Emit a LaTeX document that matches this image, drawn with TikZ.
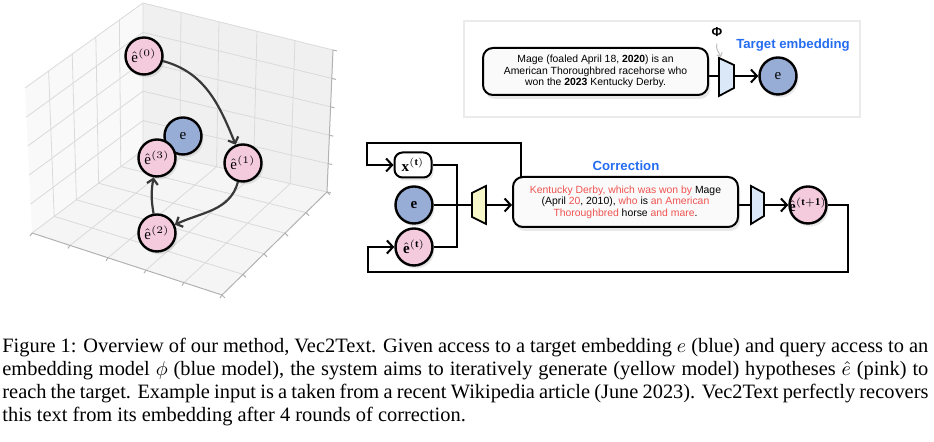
\documentclass[tikz,border=0pt]{standalone}
\usepackage{fontspec}
\setmainfont{Liberation Serif}
\newfontfamily\capfont{Liberation Serif}
\newfontfamily\diagfont{Liberation Sans}
\usetikzlibrary{calc,shadows,arrows.meta,backgrounds}

\definecolor{hatpink}{RGB}{244,202,221}
\definecolor{tgtblue}{RGB}{151,173,214}
\definecolor{encblue}{RGB}{218,232,248}
\definecolor{decyellow}{RGB}{246,247,200}
\definecolor{headblue}{RGB}{36,108,240}
\definecolor{txtred}{RGB}{239,83,80}
\definecolor{paneA}{RGB}{249,249,249}
\definecolor{paneB}{RGB}{240,240,240}
\definecolor{paneC}{RGB}{245,245,245}
\definecolor{gridgray}{RGB}{218,218,218}

\tikzset{
  vec/.style={circle, draw, line width=1.2pt, minimum size=18.5pt, inner sep=0pt,
    font=\fontsize{7.5}{8}\selectfont,
    drop shadow={shadow xshift=1pt, shadow yshift=-1.5pt, opacity=0.18}},
  hyp/.style={vec, fill=hatpink},
  tgt/.style={vec, fill=tgtblue},
  textbox/.style={draw, rounded corners=5pt, line width=1pt, fill=black!2, align=center,
    font=\diagfont\fontsize{5.2}{5.7}\selectfont,
    drop shadow={shadow xshift=1pt, shadow yshift=-2pt, opacity=0.18}},
  title/.style={font=\diagfont\bfseries\fontsize{6.6}{7}\selectfont, text=headblue},
  model/.style={draw, line width=0.9pt, line join=miter},
  flow/.style={line width=1pt},
  flowarr/.style={flow, -{Straight Barb[length=3pt,width=6.5pt]}},
  arc3d/.style={draw=black!78, line width=1.1pt, -{Straight Barb[length=2.6pt,width=5.5pt]}},
  grid3d/.style={draw=gridgray, line width=0.4pt},
  edge3d/.style={draw=black!30, line width=0.5pt},
}

\begin{document}
\begin{tikzpicture}[x=0.5pt,y=-0.5pt]
    \useasboundingbox (0,0) rectangle (934,442);

    % corners of the 3-d axes box
    \coordinate (T)  at (143,3);
    \coordinate (L)  at (25,88);
    \coordinate (R)  at (333,50);
    \coordinate (B)  at (143,150);
    \coordinate (LB) at (32,233);
    \coordinate (RB) at (327,192);
    \coordinate (F)  at (222,295);

    \begin{pgfonlayer}{background}
        \fill[paneA] (B) -- (LB) -- (L) -- (T) -- cycle;
        \fill[paneB] (B) -- (RB) -- (R) -- (T) -- cycle;
        \fill[paneC] (B) -- (LB) -- (F) -- (RB) -- cycle;
        \foreach \i in {1,...,4}{
            \draw[grid3d] ($(B)!\i/5!(LB)$) -- ($(T)!\i/5!(L)$);
            \draw[grid3d] ($(B)!\i/5!(T)$)  -- ($(LB)!\i/5!(L)$);
            \draw[grid3d] ($(B)!\i/5!(RB)$) -- ($(T)!\i/5!(R)$);
            \draw[grid3d] ($(B)!\i/5!(T)$)  -- ($(RB)!\i/5!(R)$);
            \draw[grid3d] ($(B)!\i/5!(RB)$) -- ($(LB)!\i/5!(F)$);
            \draw[grid3d] ($(B)!\i/5!(LB)$) -- ($(RB)!\i/5!(F)$);
        }
        \draw[grid3d] (L) -- (T) -- (R) (T) -- (B) -- (LB) (B) -- (RB);
        \draw[edge3d] (LB) -- (F) -- (RB) -- (R);
        \foreach \i in {0,...,5}{
            \draw[edge3d] ($(R)!\i/5!(RB)$)  -- ++(4,1);
            \draw[edge3d] ($(LB)!\i/5!(F)$)  -- ++(-2,3);
            \draw[edge3d] ($(F)!\i/5!(RB)$)  -- ++(3,3);
        }
    \end{pgfonlayer}

    % hypotheses in embedding space
    \node (etgt) [tgt] at (183,136) {$\mathrm{e}$};
    \node (e0)   [hyp] at (144,56)  {$\hat{\mathrm{e}}^{(0)}$};
    \node (e3)   [hyp] at (157,158) {$\hat{\mathrm{e}}^{(3)}$};
    \node (e1)   [hyp] at (243,163) {$\hat{\mathrm{e}}^{(1)}$};
    \node (e2)   [hyp] at (157,233) {$\hat{\mathrm{e}}^{(2)}$};

    % target embedding
    \draw[draw=black!8, line width=0.8pt] (464,21) rectangle (860,117);
    \node (srcbox) [textbox, minimum width=112.5pt, minimum height=23.5pt] at (595.5,71.5)
        {Mage (foaled April 18, \textbf{2020}) is an\\American Thoroughbred racehorse who\\won the \textbf{2023} Kentucky Derby.};
    \draw[model, fill=encblue] (719,58) -- (734,65) -- (734,88) -- (719,96) -- cycle;
    \coordinate (enc-w) at (719,76);
    \coordinate (enc-e) at (734,76);
    \coordinate (enc-n) at (721,57);
    \node (phi)  at (717,32) {\diagfont\bfseries\fontsize{6.5}{6.5}\selectfont Φ};
    \node (emb)  [tgt] at (778,76) {$\mathrm{e}$};
    \node (tgtlabel) [title] at (793,45) {Target embedding};

    % correction step
    \node (xt)   [draw, rounded corners=4pt, line width=1pt, fill=white, inner sep=0pt,
                  minimum width=18.5pt, minimum height=12.5pt, font=\fontsize{7.5}{8}\selectfont,
                  drop shadow={shadow xshift=1pt, shadow yshift=-1.5pt, opacity=0.18}]
                  at (413,165) {$\mathbf{x}^{(\mathbf{t})}$};
    \node (et)   [tgt] at (414,205) {$\mathbf{e}$};
    \node (ehat) [hyp] at (414,247) {$\hat{\mathbf{e}}^{(\mathbf{t})}$};
    \draw[model, fill=decyellow] (472,193) -- (486,186) -- (486,224) -- (472,217) -- cycle;
    \coordinate (dec-w) at (472,205);
    \coordinate (dec-e) at (486,205);
    \node (corr) [textbox, minimum width=112.5pt, minimum height=25pt] at (625.5,202)
        {{\color{txtred}Kentucky Derby, which was won by} Mage\\
         (April {\color{txtred}20}, 2010), {\color{txtred}who} is {\color{txtred}an American}\\
         {\color{txtred}Thoroughbred} horse {\color{txtred}and mare}.};
    \node (corrlabel) [title] at (626,166) {Correction};
    \draw[model, fill=encblue] (751,186) -- (764,193) -- (764,216) -- (751,224) -- cycle;
    \coordinate (enc2-w) at (751,205);
    \coordinate (enc2-e) at (764,205);
    \node (enext) [hyp] at (808,205) {\makebox[0pt]{$\hat{\mathbf{e}}^{(\mathbf{t+1})}$}};

    \coordinate (mrg)     at (457,205);
    \coordinate (corrtap) at (521,185);
    \coordinate (lpT)     at (367,143);
    \coordinate (lpR)     at (848,272);
    \coordinate (lpL)     at (368,272);

    \begin{pgfonlayer}{background}
        \draw[arc3d] (e0) to[out=-15, in=112] (e1);
        \draw[arc3d] (e1) to[out=-105, in=25] (e2);
        \draw[arc3d] (e2) to[out=100, in=-100] (e3);

        \draw[flow] (srcbox.east |- enc-w) -- (enc-w);
        \draw[flowarr] (enc-e) -- (emb);
        \draw[draw=black!25, line width=0.5pt, -{Straight Barb[length=1.5pt,width=3pt]}]
            (phi.south) to[out=-110, in=115] (enc-n);

        \draw[flow] (xt.east) -| (mrg);
        \draw[flow] (ehat.east) -| (mrg);
        \draw[flow] (et.east) -- (dec-w);
        \draw[flowarr] (dec-e) -- (dec-e -| corr.west);
        \draw[flow] (corr.east |- enc2-w) -- (enc2-w);
        \draw[flowarr] (enc2-e) -- (enext);
        \draw[flowarr] (corrtap) |- (lpT) |- (xt.west);
        \draw[flowarr] (enext.east) -| (lpR) -- (lpL) |- (ehat.west);
    \end{pgfonlayer}

    \node (caption) [anchor=north west, text width=463pt, inner sep=0pt, align=justify,
                     font=\capfont\fontsize{10.2}{11.4}\selectfont] at (2,338)
        {Figure 1: Overview of our method, Vec2Text. Given access to a target embedding $e$ (blue) and query access to an\linebreak
         embedding model $\phi$ (blue model), the system aims to iteratively generate (yellow model) hypotheses $\hat{e}$ (pink) to\linebreak
         reach the target. Example input is a taken from a recent Wikipedia article (June 2023). Vec2Text perfectly recovers\linebreak
         this text from its embedding after 4 rounds of correction.};
\end{tikzpicture}
\end{document}
